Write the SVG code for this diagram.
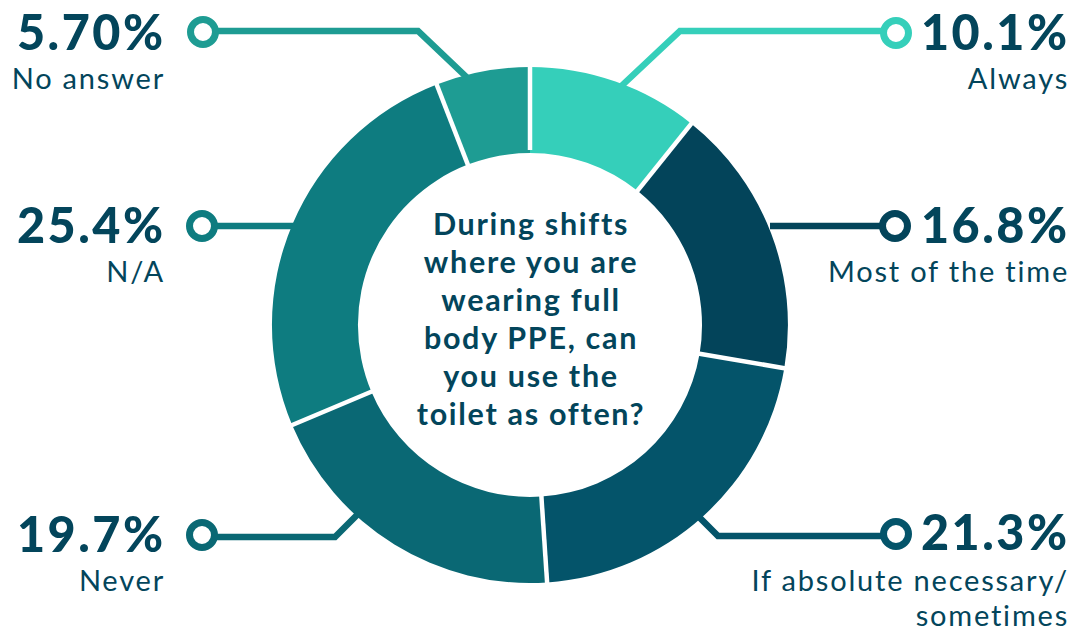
<svg xmlns="http://www.w3.org/2000/svg" width="1075" height="631" viewBox="0 0 1075 631">
<style>
.num{font-family:Lato,"Open Sans",sans-serif;font-weight:900;font-size:48.5px;fill:#03455B;letter-spacing:2.5px}
.lbl{font-family:Lato,"Open Sans",sans-serif;font-weight:400;font-size:29px;fill:#03455B;letter-spacing:1.8px}
.q{font-family:Lato,"Open Sans",sans-serif;font-weight:700;font-size:30.5px;fill:#03455B;text-anchor:middle;letter-spacing:1.7px}
.end{text-anchor:end}
.ln{fill:none;stroke-width:6.5;stroke-linejoin:miter}
.dot{fill:#fff;stroke-width:7}
.sep{stroke:#fff;stroke-width:4.5}
</style>
<rect width="1075" height="631" fill="#fff"/>
<g id="connectors">
<path class="ln" stroke="#1E9C93" d="M216 31 L418 31 L478 88"/>
<circle class="dot" stroke="#1E9C93" cx="203" cy="32" r="12.5"/>
<path class="ln" stroke="#35CFBA" d="M883 31 L680 31 L615 92"/>
<circle class="dot" stroke="#35CFBA" cx="896" cy="33" r="12.5"/>
<path class="ln" stroke="#0E7C80" d="M215 226 L300 226"/>
<circle class="dot" stroke="#0E7C80" cx="202" cy="226" r="12.5"/>
<path class="ln" stroke="#03445A" d="M882 226 L770 226"/>
<circle class="dot" stroke="#03445A" cx="895" cy="226" r="12.5"/>
<path class="ln" stroke="#0A6874" d="M215 537 L335 537 L365 507"/>
<circle class="dot" stroke="#0A6874" cx="202" cy="535" r="12.5"/>
<path class="ln" stroke="#04546A" d="M883 536 L718 536 L690 508"/>
<circle class="dot" stroke="#04546A" cx="896" cy="534" r="12.5"/>
</g>
<g id="always">
<path fill="#35CFBA" d="M530 67 A258 258 0 0 1 691.3 123.7 L637.5 190.8 A172 172 0 0 0 530 153 Z"/>
<text class="num end" x="1069.5" y="50">10.1%</text>
<text class="lbl end" x="1069" y="89">Always</text>
</g>
<g id="most">
<path fill="#03445A" d="M691.3 123.7 A258 258 0 0 1 784.3 368.2 L699.6 353.8 A172 172 0 0 0 637.5 190.8 Z"/>
<text class="num end" x="1069.5" y="243">16.8%</text>
<text class="lbl end" x="1069" y="282">Most of the time</text>
</g>
<g id="sometimes">
<path fill="#04546A" d="M784.3 368.2 A258 258 0 0 1 547.1 582.4 L541.4 496.6 A172 172 0 0 0 699.6 353.8 Z"/>
<text class="num end" x="1069.5" y="550">21.3%</text>
<text class="lbl end" x="1069" y="591">If absolute necessary/</text>
<text class="lbl end" x="1069" y="626">sometimes</text>
</g>
<g id="never">
<path fill="#0A6874" d="M547.1 582.4 A258 258 0 0 1 292.1 425 L371.4 391.7 A172 172 0 0 0 541.4 496.6 Z"/>
<text class="num end" x="165.5" y="552">19.7%</text>
<text class="lbl end" x="165" y="591">Never</text>
</g>
<g id="na">
<path fill="#0E7C80" d="M292.1 425 A258 258 0 0 1 436.7 84.5 L467.8 164.6 A172 172 0 0 0 371.4 391.7 Z"/>
<text class="num end" x="165.5" y="243">25.4%</text>
<text class="lbl end" x="165" y="282">N/A</text>
</g>
<g id="noanswer">
<path fill="#1E9C93" d="M436.7 84.5 A258 258 0 0 1 530 67 L530 153 A172 172 0 0 0 467.8 164.6 Z"/>
<text class="num end" x="165.5" y="50">5.70%</text>
<text class="lbl end" x="165" y="89">No answer</text>
</g>
<g id="separators">
<line class="sep" x1="530" y1="150" x2="530" y2="64"/>
<line class="sep" x1="635.6" y1="193.2" x2="693.2" y2="121.3"/>
<line class="sep" x1="696.6" y1="353.3" x2="787.3" y2="368.7"/>
<line class="sep" x1="541.2" y1="493.6" x2="547.3" y2="585.4"/>
<line class="sep" x1="374.2" y1="390.5" x2="289.3" y2="426.2"/>
<line class="sep" x1="468.9" y1="167.4" x2="435.6" y2="81.7"/>
</g>
<g id="question">
<text class="q" x="531" y="235">During shifts</text>
<text class="q" x="531" y="273">where you are</text>
<text class="q" x="531" y="311">wearing full</text>
<text class="q" x="531" y="349">body PPE, can</text>
<text class="q" x="531" y="387">you use the</text>
<text class="q" x="531" y="425">toilet as often?</text>
</g>
</svg>
